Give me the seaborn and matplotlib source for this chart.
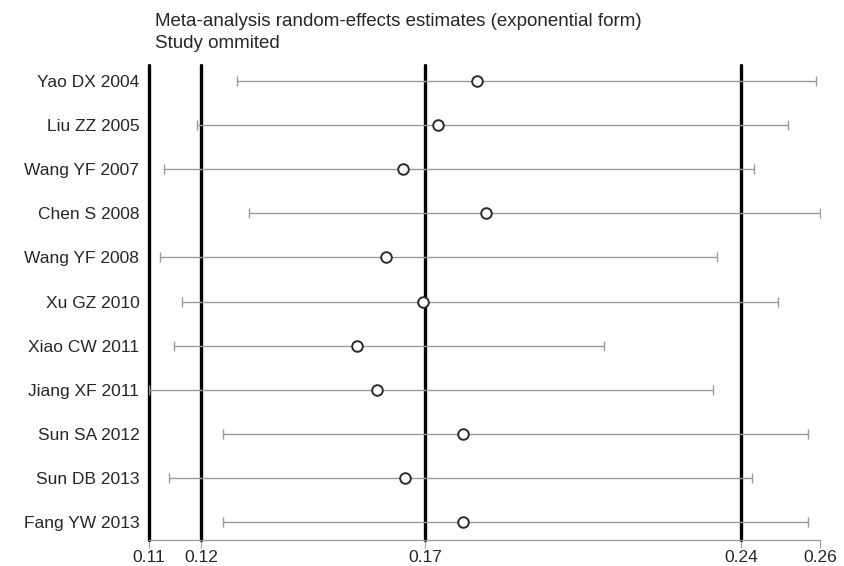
import matplotlib
matplotlib.use('Agg')
import matplotlib.pyplot as plt
import seaborn as sns
import numpy as np
import pandas

studies = ['Yao DX 2004', 'Liu ZZ 2005', 'Wang YF 2007', 'Chen S 2008', 'Wang YF 2008',
           'Xu GZ 2010', 'Xiao CW 2011', 'Jiang XF 2011', 'Sun SA 2012', 'Sun DB 2013',
           'Fang YW 2013']
estimate = [0.1833, 0.1747, 0.1667, 0.1853, 0.1630, 0.1713, 0.1566, 0.1609, 0.1802, 0.1672, 0.1803]
lower_ci = [0.1297, 0.1207, 0.1134, 0.1324, 0.1125, 0.1174, 0.1157, 0.1100, 0.1266, 0.1145, 0.1266]
upper_ci = [0.2592, 0.2529, 0.2452, 0.2600, 0.2369, 0.2507, 0.2117, 0.2361, 0.2574, 0.2448, 0.2574]

# pooled estimate and its CI (thick reference lines)
pooled_lower = 0.1216
pooled = 0.1717
pooled_upper = 0.2423

data = pandas.DataFrame({'study': studies, 'estimate': estimate,
                         'lower': lower_ci, 'upper': upper_ci})
data['row'] = np.arange(len(data))

sns.set_style('white')
plt.rcParams['font.family'] = ['Liberation Sans', 'DejaVu Sans']

fig = plt.figure(figsize=(8.45, 5.66), dpi=100)
ax = fig.add_axes([149 / 845, 26 / 566, 671 / 845, 475 / 566])

x_min = data['lower'].min()
x_max = data['upper'].max()

# thick vertical lines
for v in [x_min, pooled_lower, pooled, pooled_upper]:
    ax.axvline(v, color='black', linewidth=2.4, zorder=1, clip_on=False)

ax.errorbar(data['estimate'], data['row'],
            xerr=[data['estimate'] - data['lower'], data['upper'] - data['estimate']],
            fmt='none', ecolor='#9a9a9a', elinewidth=1.0, capsize=3.6, capthick=1.0, zorder=2)

sns.scatterplot(data=data, x='estimate', y='row', ax=ax, s=58, marker='o',
                facecolor='white', edgecolor='#2a2a2a', linewidth=1.4, zorder=3)

ax.set_xlim(x_min, x_max)
ax.set_ylim(10.4, -0.36)
ax.set_yticks(data['row'])
ax.set_yticklabels(data['study'], fontsize=12.5)
ax.tick_params(axis='y', length=0, pad=7)

ticks = [x_min, pooled_lower, pooled, pooled_upper, x_max]
ax.set_xticks(ticks)
ax.set_xticklabels(['%.2f' % t for t in ticks], fontsize=12.5)
ax.tick_params(axis='x', length=6, width=0.8, color='#9a9a9a', pad=1, bottom=True)

for side in ['top', 'right', 'left']:
    ax.spines[side].set_visible(False)
ax.spines['bottom'].set_color('#9a9a9a')
ax.spines['bottom'].set_linewidth(0.9)
ax.set_xlabel('')
ax.set_ylabel('')

fig.text(155 / 845, 1 - 21 / 566, 'Meta-analysis random-effects estimates (exponential form)',
         fontsize=13.5, va='center', ha='left')
fig.text(155 / 845, 1 - 44 / 566, 'Study ommited', fontsize=13.5, va='center', ha='left')

fig.savefig('out.png', dpi=100)
